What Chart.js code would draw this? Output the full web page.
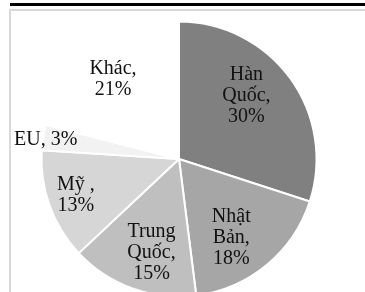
<!DOCTYPE html>
<html>
<head>
<meta charset="utf-8">
<script src="https://cdn.jsdelivr.net/npm/chart.js@4/dist/chart.umd.min.js"></script>
<style>
    html, body { margin: 0; padding: 0; background: #fff; overflow: hidden; }
    body { width: 365px; height: 292px; position: relative; }
    .topline { position: absolute; left: 10px; top: 3px; width: 355px; height: 3px; background: #000; }
    .frame { position: absolute; left: 9px; top: 9px; width: 400px; height: 320px;
             border-left: 2px solid #d9d9d9; border-top: 2px solid #d9d9d9; }
    .wrap { position: absolute; left: 0; top: 0; width: 365px; height: 300px; }
</style>
</head>
<body>
<div class="topline"></div>
<div class="frame"></div>
<div class="wrap"><canvas id="pie"></canvas></div>
<script>
const labels = ['Hàn Quốc', 'Nhật Bản', 'Trung Quốc', 'Mỹ', 'EU', 'Khác'];
const values = [30, 18, 15, 13, 3, 21];
// text as printed on each slice
const labelLines = [
    ['Hàn', 'Quốc,', '30%'],
    ['Nhật', 'Bản,', '18%'],
    ['Trung', 'Quốc,', '15%'],
    ['Mỹ ,', '13%'],
    ['EU, 3%'],
    ['Khác,', '21%']
];
const colors = ['#808080', '#a6a6a6', '#bfbfbf', '#d6d6d6', '#f2f2f2', '#ffffff'];
// label place, in units of the radius from the centre
const labelPos = [[0.49, -0.46], [0.38, 0.57], [-0.20, 0.68], [-0.75, 0.26], [-0.97, -0.14], [-0.48, -0.58]];

const sliceLabels = {
    id: 'sliceLabels',
    afterDatasetsDraw(chart) {
        const ctx = chart.ctx;
        const meta = chart.getDatasetMeta(0);
        ctx.save();
        ctx.font = '20px "Liberation Serif", "Times New Roman", Times, serif';
        ctx.fillStyle = '#111';
        ctx.textAlign = 'center';
        ctx.textBaseline = 'middle';
        meta.data.forEach(function (arc, i) {
            const r = arc.outerRadius;
            const cx = arc.x + labelPos[i][0] * r;
            const cy = arc.y + labelPos[i][1] * r;
            const lines = labelLines[i];
            const lh = 21;
            lines.forEach(function (t, j) {
                ctx.fillText(t, cx, cy + (j - (lines.length - 1) / 2) * lh);
            });
        });
        ctx.restore();
    }
};

new Chart(document.getElementById('pie'), {
    type: 'pie',
    data: {
        labels: labels,
        datasets: [{
            data: values,
            backgroundColor: colors,
            borderColor: '#ffffff',
            borderWidth: 2
        }]
    },
    options: {
        responsive: true,
        maintainAspectRatio: false,
        animation: false,
        layout: { padding: { left: 40.5, right: 47.5, top: 20.5, bottom: 2.5 } },
        plugins: {
            legend: { display: false },
            tooltip: { enabled: false }
        }
    },
    plugins: [sliceLabels]
});
</script>
</body>
</html>
